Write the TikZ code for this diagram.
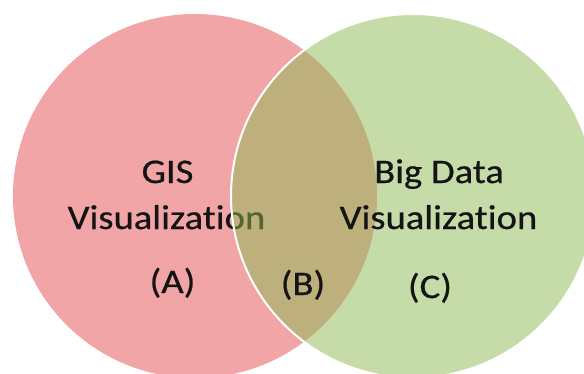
\documentclass[tikz,border=0pt]{standalone}
\usepackage{fontspec}
\setmainfont[FakeStretch=1.12,FakeBold=0.6,Ligatures={NoCommon,NoRare,NoContextual}]{Carlito}
\definecolor{vpink}{RGB}{241,165,167}
\definecolor{vgreen}{RGB}{141,187,85}
\definecolor{vtext}{RGB}{20,20,20}
\begin{document}
\begin{tikzpicture}[x=1pt,y=-1pt,
  lbl/.style={inner sep=0pt,anchor=base,text=vtext,font=\fontsize{34.5}{40}\selectfont}]
\useasboundingbox (0,0) rectangle (584,373);
\clip (0,0) rectangle (584,373);
\fill[white] (0,0) rectangle (584,373);
% left circle
\fill[vpink] (195,196) circle[radius=182];
\node[lbl] (gis) at (167.5,183) {GIS};
\node[lbl] (visl) at (166.5,229) {Visualization};
\node[lbl] (a) at (172.5,293) {(A)};
% right circle, semi-transparent with white border
\draw[white,line width=2pt,fill=vgreen,fill opacity=0.5] (413,196) circle[radius=182];
\node[lbl] (big) at (439,183) {Big Data};
\node[lbl] (visr) at (438.5,229) {Visualization};
\node[lbl] (b) at (303,295) {(B)};
\node[lbl] (c) at (430,298) {(C)};
\end{tikzpicture}
\end{document}
